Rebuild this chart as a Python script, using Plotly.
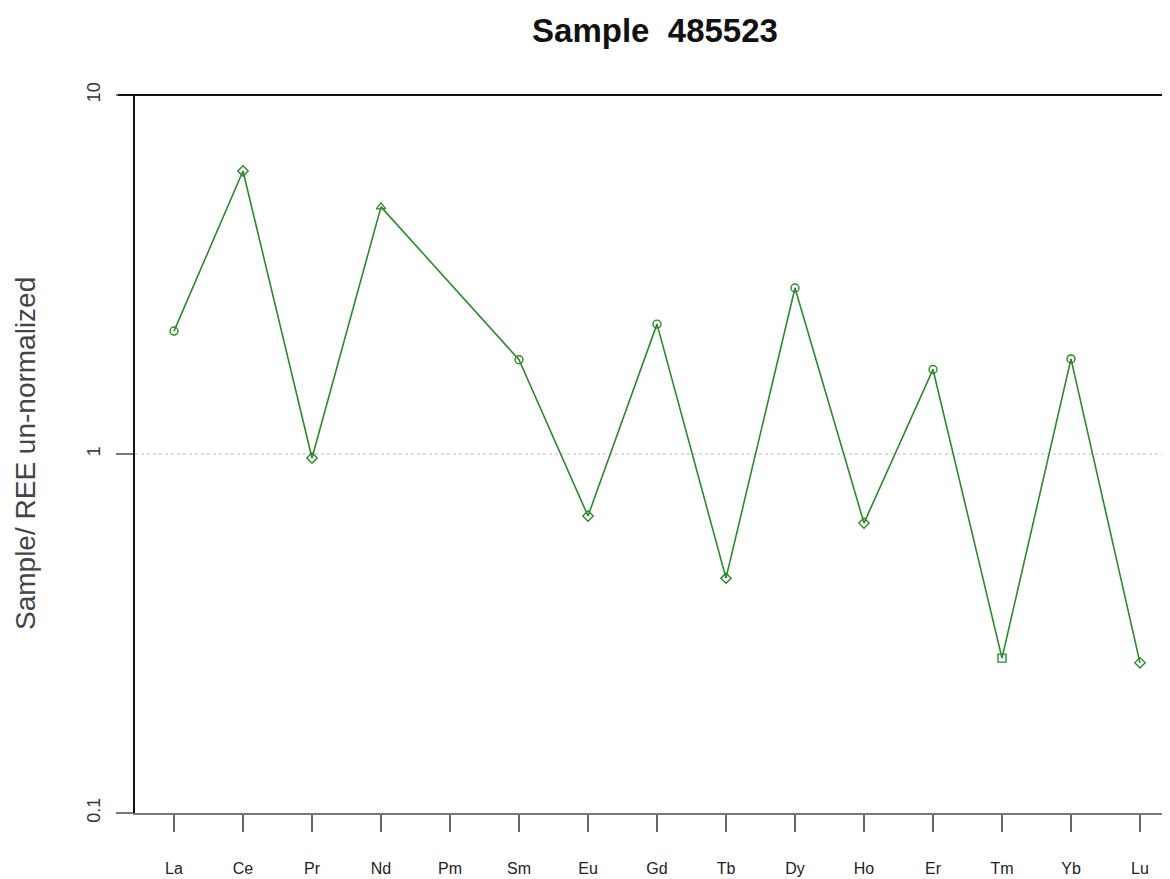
import plotly.graph_objects as go

elements = ["La", "Ce", "Pr", "Nd", "Pm", "Sm", "Eu", "Gd", "Tb", "Dy", "Ho", "Er", "Tm", "Yb", "Lu"]
values = [2.20, 6.14, 0.975, 4.88, None, 1.83, 0.672, 2.30, 0.451, 2.90, 0.642, 1.72, 0.270, 1.84, 0.262]
y_tick_vals = [0.1, 1, 10]
y_tick_text = ["0.1", "1", "10"]
ref_level = 1

symbols = ["circle-open", "diamond-open", "diamond-open", "triangle-up-open", "circle-open",
           "circle-open", "diamond-open", "circle-open", "diamond-open", "circle-open",
           "diamond-open", "circle-open", "square-open", "circle-open", "diamond-open"]

# page body adds an 8px offset; size the figure so it fills the window
W, H = 1162, 871
L, R, T, B = 127, 0, 87, 66
pw = W - L - R

xs = list(range(len(elements)))
px = [x for x, v in zip(xs, values) if v is not None]
pv = [v for v in values if v is not None]
ps = [s for s, v in zip(symbols, values) if v is not None]

fig = go.Figure()
fig.add_hline(y=ref_level, line=dict(color="#bbbbbb", width=1.2, dash="dot"), layer="below")
fig.add_trace(go.Scatter(
    x=px, y=pv, mode="lines+markers",
    line=dict(color="#2b8a2b", width=1.6),
    marker=dict(symbol=ps, size=8, color="#2b8a2b", line=dict(width=1.4, color="#2b8a2b")),
    showlegend=False, hoverinfo="skip",
))

fig.update_layout(
    width=W, height=H,
    margin=dict(l=L, r=R, t=T, b=B),
    paper_bgcolor="white", plot_bgcolor="white",
    font=dict(family="Liberation Sans, Arial, sans-serif", color="#222"),
    title=dict(text="<b>Sample  485523</b>", x=647 / W, xanchor="center",
               y=1 - 22 / H, yanchor="middle", font=dict(size=33, color="#111")),
    xaxis=dict(
        range=[-39 / 69, (pw - 39) / 69],
        tickmode="array", tickvals=xs, ticktext=elements,
        ticks="outside", ticklen=17, tickwidth=2, tickcolor="#666",
        showline=True, linecolor="#777", linewidth=2,
        showgrid=False, zeroline=False,
        tickfont=dict(size=16, color="#222"),
        ticklabelstandoff=23,
    ),
    yaxis=dict(
        type="log", range=[-1, 1],
        tickmode="array", tickvals=y_tick_vals, ticktext=y_tick_text,
        ticks="outside", ticklen=17, tickwidth=2, tickcolor="#777",
        tickangle=-90,
        showline=True, linecolor="#111", linewidth=2,
        showgrid=False, zeroline=False,
        tickfont=dict(size=18, color="#333"),
        ticklabelstandoff=9,
    ),
    annotations=[
        dict(text="Sample/ REE un-normalized", xref="paper", yref="paper",
             x=(17 - L) / pw, y=0.5, xanchor="center", yanchor="middle",
             textangle=-90, showarrow=False, font=dict(size=28, color="#444")),
    ],
)
fig.add_shape(type="line", xref="paper", yref="paper", x0=-17 / pw, x1=1, y0=1, y1=1,
              line=dict(color="#111", width=2))

fig.write_html("out.html")
